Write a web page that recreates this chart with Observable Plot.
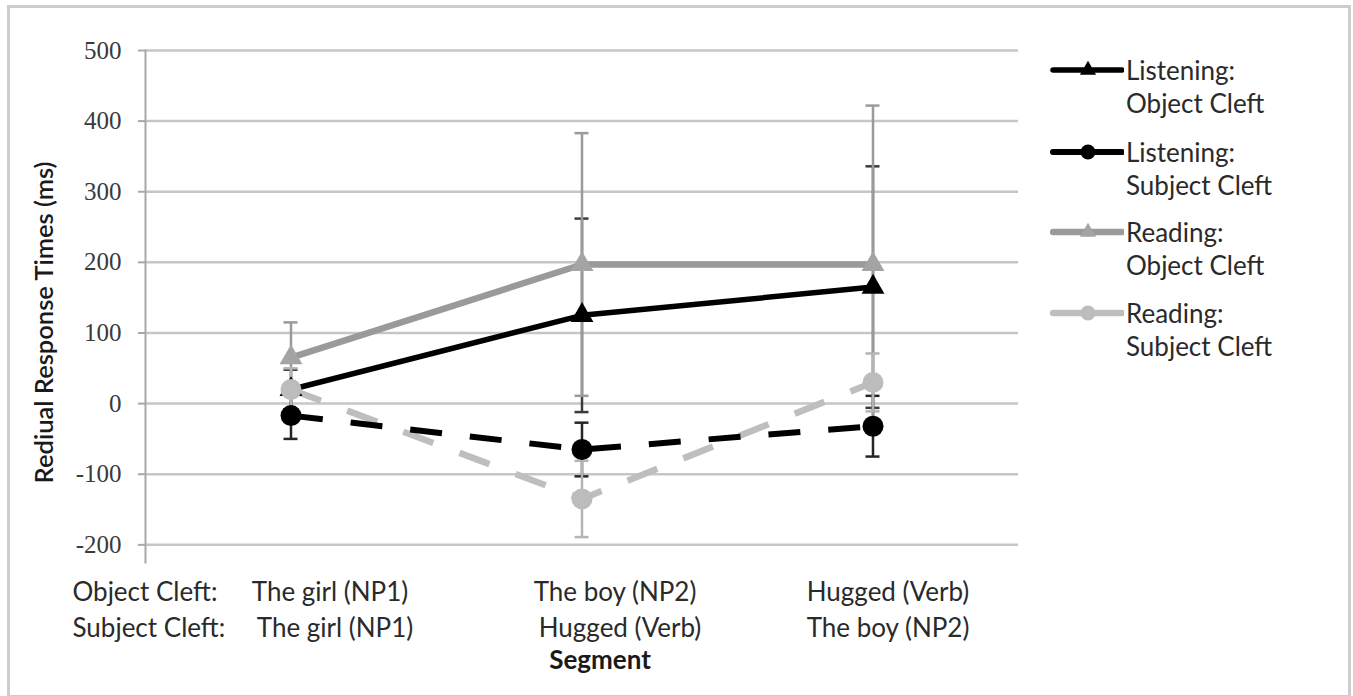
<!DOCTYPE html>
<html>
<head>
<meta charset="utf-8">
<script src="https://cdn.jsdelivr.net/npm/d3@7"></script>
<script src="https://cdn.jsdelivr.net/npm/@observablehq/plot@0.6"></script>
<style>
  body { margin: 0; background: #fff; }
  #wrap { position: relative; width: 1353px; height: 696px; overflow: hidden; background: #fff; }
  #frame { position: absolute; left: 7px; top: 5px; width: 1344px; height: 693px; border: 3.5px solid #cdcdcd; box-sizing: border-box; pointer-events: none; }
  #chart svg { display: block; }
  #legend { position: absolute; left: 1050px; top: 56px; font-family: Lato, "Open Sans", sans-serif; font-size: 26px; color: #2a2a2a; }
  .entry { position: absolute; left: 0; width: 290px; }
  .entry svg { position: absolute; left: 0; top: 0; }
  .entry .lbl { position: absolute; left: 76px; top: -2px; line-height: 33px; white-space: nowrap; }
</style>
</head>
<body>
<div id="wrap">
  <div id="chart"></div>
  <div id="legend"></div>
  <div id="frame"></div>
</div>
<script>
// ---------- data ----------
const segments = ["NP1", "NP2", "Verb"];
const objectCleftLabels = ["The girl (NP1)", "The boy (NP2)", "Hugged (Verb)"];
const subjectCleftLabels = ["The girl (NP1)", "Hugged (Verb)", "The boy (NP2)"];
const rowLabels = ["Object Cleft:", "Subject Cleft:"];
const yTicks = [-200, -100, 0, 100, 200, 300, 400, 500];
const seriesNames = ["Listening:\nObject Cleft", "Listening:\nSubject Cleft", "Reading:\nObject Cleft", "Reading:\nSubject Cleft"];

const listeningObject    = [20, 125, 165];
const listeningObjectErr = [28, 137, 171];
const listeningSubject    = [-17, -65, -32];
const listeningSubjectErr = [33, 38, 43];
const readingObject    = [65, 197, 197];
const readingObjectErr = [50, 186, 225];
const readingSubject    = [20, -135, 30];
const readingSubjectErr = [30, 54, 41];

const seriesValues = [listeningObject, listeningSubject, readingObject, readingSubject];
const seriesErrors = [listeningObjectErr, listeningSubjectErr, readingObjectErr, readingSubjectErr];

// ---------- styles ----------
const styles = [
  {stroke: "#000000", width: 5.5, dash: null,    symbol: "triangle", r: 8.5,  fill: "#000000", err: "#3c3c3c", lr: 6},
  {stroke: "#000000", width: 6,   dash: "32,28", symbol: "circle",   r: 10.5, fill: "#000000", err: "#262626", lr: 7.5},
  {stroke: "#9a9a9a", width: 6.5, dash: null,    symbol: "triangle", r: 8.5,  fill: "#a4a4a4", err: "#9a9a9a", lr: 6},
  {stroke: "#bebebe", width: 6.5, dash: "32,28", symbol: "circle",   r: 10.5, fill: "#bcbcbc", err: "#b4b4b4", lr: 7.5}
];
const sans = "Lato, 'Open Sans', sans-serif";
const row1Dx = [39, 33, 15];
const row2Dx = [44, 38, 15];

// table built from arrays
const tables = seriesValues.map((vals, s) => segments.map((seg, i) => ({
  series: seriesNames[s], segment: seg, value: vals[i], err: seriesErrors[s][i]
})));

const marks = [];
marks.push(Plot.gridY(yTicks, {stroke: "#c6c6c6", strokeOpacity: 1, strokeWidth: 2.5}));
marks.push(Plot.frame({anchor: "left", stroke: "#a8a8a8", strokeWidth: 2}));
marks.push(Plot.axisY(yTicks, {
  tickSize: 7, tickPadding: 17, stroke: "#a8a8a8", strokeWidth: 2,
  fontSize: 25, fontFamily: "'Liberation Serif', 'DejaVu Serif', serif", fill: "#3a3a3a",
  label: null, tickFormat: d => String(d)
}));

// error bars
tables.forEach((t, s) => {
  marks.push(Plot.ruleX(t, {x: "segment", y1: d => d.value - d.err, y2: d => d.value + d.err, stroke: styles[s].err, strokeWidth: 2.5}));
  marks.push(Plot.tickY(t, {x: "segment", y: d => d.value + d.err, stroke: styles[s].err, strokeWidth: 2.5, insetLeft: 138.5, insetRight: 138.5}));
  marks.push(Plot.tickY(t, {x: "segment", y: d => d.value - d.err, stroke: styles[s].err, strokeWidth: 2.5, insetLeft: 138.5, insetRight: 138.5}));
});

// lines: reading first, listening on top
[2, 3, 0, 1].forEach(s => {
  marks.push(Plot.line(tables[s], {
    x: "segment", y: "value", stroke: styles[s].stroke, strokeWidth: styles[s].width,
    strokeDasharray: styles[s].dash || undefined, strokeLinecap: "butt", strokeLinejoin: "round"
  }));
});
// markers
[0, 1, 2, 3].forEach(s => {
  marks.push(Plot.dot(tables[s], {
    x: "segment", y: "value", symbol: styles[s].symbol, r: styles[s].r, fill: styles[s].fill, stroke: "none"
  }));
});

// category labels
segments.forEach((seg, i) => {
  marks.push(Plot.text([seg], {x: d => d, text: [objectCleftLabels[i]], frameAnchor: "bottom", dy: 30, dx: row1Dx[i],
    fontSize: 26, fontFamily: sans, fill: "#2a2a2a", lineAnchor: "middle"}));
  marks.push(Plot.text([seg], {x: d => d, text: [subjectCleftLabels[i]], frameAnchor: "bottom", dy: 66, dx: row2Dx[i],
    fontSize: 26, fontFamily: sans, fill: "#2a2a2a", lineAnchor: "middle"}));
});
marks.push(Plot.text([rowLabels[0]], {frameAnchor: "bottom-left", dx: -73, dy: 30, textAnchor: "start", lineAnchor: "middle",
  fontSize: 26, fontFamily: sans, fill: "#2a2a2a"}));
marks.push(Plot.text([rowLabels[1]], {frameAnchor: "bottom-left", dx: -73, dy: 66, textAnchor: "start", lineAnchor: "middle",
  fontSize: 26, fontFamily: sans, fill: "#2a2a2a"}));
marks.push(Plot.text(["Segment"], {frameAnchor: "bottom", dx: 18, dy: 98, lineAnchor: "middle",
  fontSize: 26, fontWeight: "bold", fontFamily: sans, fill: "#1a1a1a"}));
marks.push(Plot.text(["Rediual Response Times (ms)"], {frameAnchor: "left", textAnchor: "middle", dx: -101, dy: 16, rotate: -90, lineAnchor: "middle",
  fontSize: 25.5, fontWeight: 600, fontFamily: sans, fill: "#1a1a1a"}));

const chart = Plot.plot({
  width: 1353, height: 696,
  marginLeft: 145, marginRight: 335, marginTop: 50, marginBottom: 134,
  style: {background: "#fff", overflow: "visible"},
  x: {type: "band", domain: segments, padding: 0, axis: null},
  y: {domain: [-225, 500], axis: null},
  marks
});
document.getElementById("chart").appendChild(chart);

// ---------- legend ----------
const legend = d3.select("#legend");
const entryTops = [0, 82, 162, 243];
seriesNames.forEach((name, s) => {
  const st = styles[s];
  const e = legend.append("div").attr("class", "entry").style("top", entryTops[s] + "px");
  const svg = e.append("svg").attr("width", 74).attr("height", 30);
  svg.append("line").attr("x1", 3).attr("x2", 72).attr("y1", 14).attr("y2", 14)
    .attr("stroke", st.stroke).attr("stroke-width", st.width).attr("stroke-linecap", "round");
  const sym = st.symbol === "triangle" ? d3.symbolTriangle : d3.symbolCircle;
  svg.append("path").attr("transform", "translate(38,14)")
    .attr("d", d3.symbol(sym, Math.PI * st.lr * st.lr)()).attr("fill", st.fill);
  const lbl = e.append("div").attr("class", "lbl");
  name.split("\n").forEach(line => lbl.append("div").text(line));
});
</script>
</body>
</html>
